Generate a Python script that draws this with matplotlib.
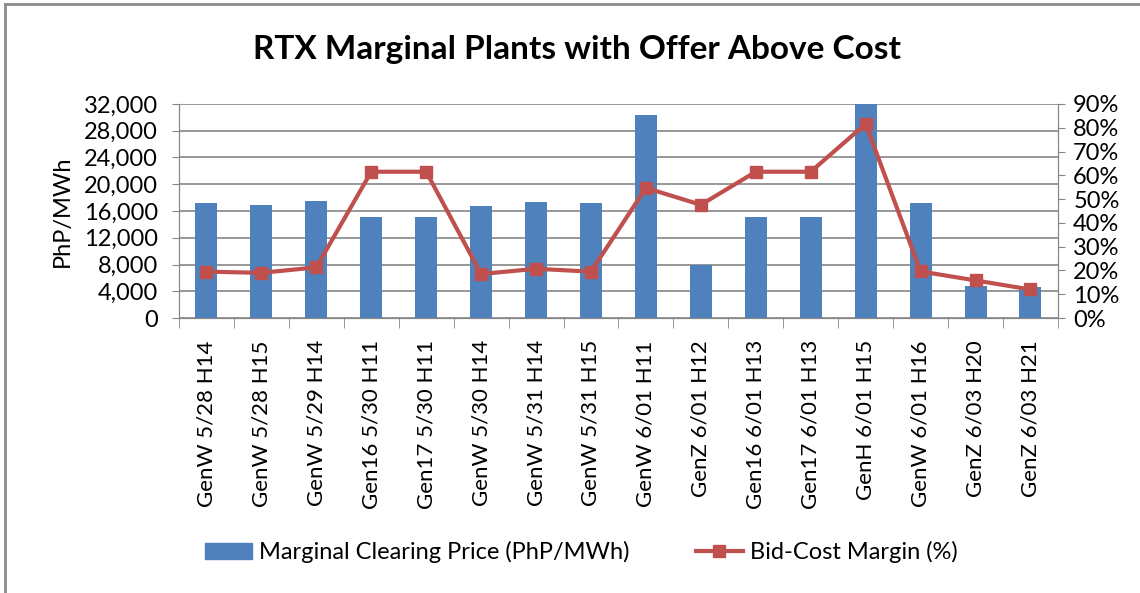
import numpy as np
import matplotlib.pyplot as plt
from matplotlib.ticker import FuncFormatter, MultipleLocator
from matplotlib.lines import Line2D
from matplotlib.patches import Patch

plt.rcParams['font.family'] = ['Lato', 'DejaVu Sans']

# data
plants = ['GenW 5/28 H14', 'GenW 5/28 H15', 'GenW 5/29 H14', 'Gen16 5/30 H11',
          'Gen17 5/30 H11', 'GenW 5/30 H14', 'GenW 5/31 H14', 'GenW 5/31 H15',
          'GenW 6/01 H11', 'GenZ 6/01 H12', 'Gen16 6/01 H13', 'Gen17 6/01 H13',
          'GenH 6/01 H15', 'GenW 6/01 H16', 'GenZ 6/03 H20', 'GenZ 6/03 H21']
price = [17150, 16950, 17550, 15050, 15050, 16750, 17350, 17150,
         30350, 8000, 15050, 15050, 33000, 17150, 4850, 4650]
margin = [19.5, 19.0, 21.3, 61.5, 61.5, 18.5, 20.7, 19.5,
          54.7, 47.6, 61.5, 61.5, 81.6, 19.6, 15.8, 12.0]

bar_color = '#4F81BD'
line_color = '#C0504D'
grid_color = '#868686'

fig = plt.figure(figsize=(11.4, 5.93), dpi=100)
ax = fig.add_axes([0.157, 0.4637, 0.771, 0.361])
x = np.arange(len(plants))

ax.bar(x, price, width=0.4, color=bar_color, zorder=2)
ax.set_ylim(0, 32000)
ax.set_xlim(-0.5, len(plants) - 0.5)
ax.yaxis.set_major_locator(MultipleLocator(4000))
ax.yaxis.set_major_formatter(FuncFormatter(lambda v, p: f'{int(v):,}'))
ax.grid(axis='y', color=grid_color, linewidth=1.2, zorder=0)
ax.set_axisbelow(True)
ax.set_ylabel('PhP/MWh', fontsize=17, labelpad=8)
ax.set_xticks(x)
ax.set_xticklabels(plants, rotation=90, fontsize=16)
ax.tick_params(axis='x', length=0, pad=16)
ax.set_xticks(np.arange(-0.5, len(plants)), minor=True)
ax.tick_params(axis='x', which='minor', length=7, color=grid_color)
ax.tick_params(axis='y', labelsize=17, length=5, pad=10, color=grid_color)
ax.spines['top'].set_visible(False)
for s in ['left', 'bottom', 'right']:
    ax.spines[s].set_color(grid_color)

ax2 = ax.twinx()
ax2.plot(x, margin, color=line_color, linewidth=3, marker='s', markersize=8, zorder=3)
ax2.set_ylim(0, 90)
ax2.yaxis.set_major_locator(MultipleLocator(10))
ax2.yaxis.set_major_formatter(FuncFormatter(lambda v, p: f'{int(v)}%'))
ax2.tick_params(axis='y', labelsize=17, length=5, pad=6, color=grid_color)
ax2.spines['top'].set_visible(False)
for s in ['left', 'bottom', 'right']:
    ax2.spines[s].set_color(grid_color)

fig.text(0.506, 0.916, 'RTX Marginal Plants with Offer Above Cost',
         ha='center', va='center', fontsize=24, fontweight='bold')

handles = [Patch(color=bar_color),
           Line2D([], [], color=line_color, linewidth=3, marker='s', markersize=8)]
fig.legend(handles, ['Marginal Clearing Price (PhP/MWh)', 'Bid-Cost Margin (%)'],
           loc='center', bbox_to_anchor=(0.51, 0.069), ncol=2, frameon=False,
           fontsize=17, columnspacing=2.8, handlelength=2.0, handletextpad=0.3)

# chart-area frame (left and top edges visible)
fig.add_artist(Line2D([0.0045, 0.0045], [0, 0.993], color='#8C8C8C', linewidth=2,
                      transform=fig.transFigure))
fig.add_artist(Line2D([0.0045, 1], [0.993, 0.993], color='#8C8C8C', linewidth=2,
                      transform=fig.transFigure))

fig.savefig('out.png', dpi=100)
